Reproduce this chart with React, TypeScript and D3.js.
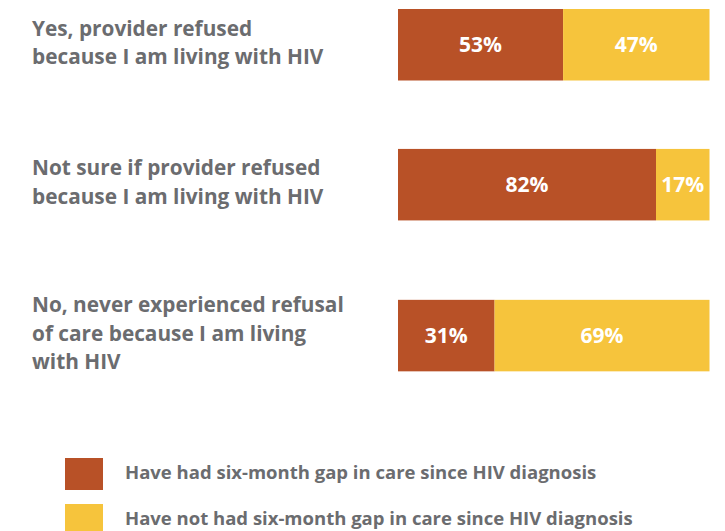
import React from "react";
import * as d3 from "d3";

const categories: string[][] = [
  ["Yes, provider refused", "because I am living with HIV"],
  ["Not sure if provider refused", "because I am living with HIV"],
  ["No, never experienced refusal", "of care because I am living", "with HIV"],
];
const hadGap: number[] = [53, 82, 31];
const noGap: number[] = [47, 17, 69];
const seriesNames: string[] = [
  "Have had six-month gap in care since HIV diagnosis",
  "Have not had six-month gap in care since HIV diagnosis",
];
const colors = ["#B85127", "#F6C43C"];

const W = 725;
const H = 531;

export default function App() {
  const keys = categories.map((c) => c.join(" "));
  // Row layout: each row takes space proportional to its label's line count plus a gap
  const gapUnits = 4.36;
  const centersU: number[] = [];
  let accU = 0;
  categories.forEach((c) => {
    centersU.push(accU + c.length / 2);
    accU += c.length + gapUnits;
  });
  const yU = d3.scaleLinear().domain([1, 2]).range([44.75, 66.75]);
  const barH = 71.5;
  const x = d3.scaleLinear().domain([0, 100]).range([398, 709.5]);
  const font = "'Open Sans', Lato, sans-serif";
  const lineH = 28.5;

  return (
    <svg
      width={W}
      height={H}
      style={{ position: "absolute", left: 0, top: 0, background: "#fff" }}
      fontFamily={font}
    >
      {keys.map((k, i) => {
        const total = hadGap[i] + noGap[i];
        const vals = [hadGap[i], noGap[i]];
        let acc = 0;
        const cy = yU(centersU[i]);
        const y0 = cy - barH / 2;
        const lines = categories[i];
        return (
          <g key={k}>
            {vals.map((v, j) => {
              const start = (acc / total) * 100;
              acc += v;
              const end = (acc / total) * 100;
              const x0 = x(start);
              const x1 = x(end);
              return (
                <g key={j}>
                  <rect x={x0} y={y0} width={x1 - x0} height={barH} fill={colors[j]} />
                  <text
                    x={(x0 + x1) / 2}
                    y={cy + 7.5}
                    textAnchor="middle"
                    fill="#fff"
                    fontWeight={700}
                    fontSize={21}
                  >
                    {v}%
                  </text>
                </g>
              );
            })}
            {lines.map((ln, li) => (
              <text
                key={li}
                x={32}
                y={cy + (li - (lines.length - 1) / 2) * lineH + 5}
                fill="#6B6C6F"
                fontWeight={700}
                fontSize={20.8}
              >
                {ln}
              </text>
            ))}
          </g>
        );
      })}
      {seriesNames.map((s, i) => (
        <g key={s} transform={`translate(0, ${458 + i * 46})`}>
          <rect x={65} y={0} width={38} height={32} fill={colors[i]} />
          <text x={125} y={21} fill="#6B6C6F" fontWeight={700} fontSize={18.5}>
            {s}
          </text>
        </g>
      ))}
    </svg>
  );
}
